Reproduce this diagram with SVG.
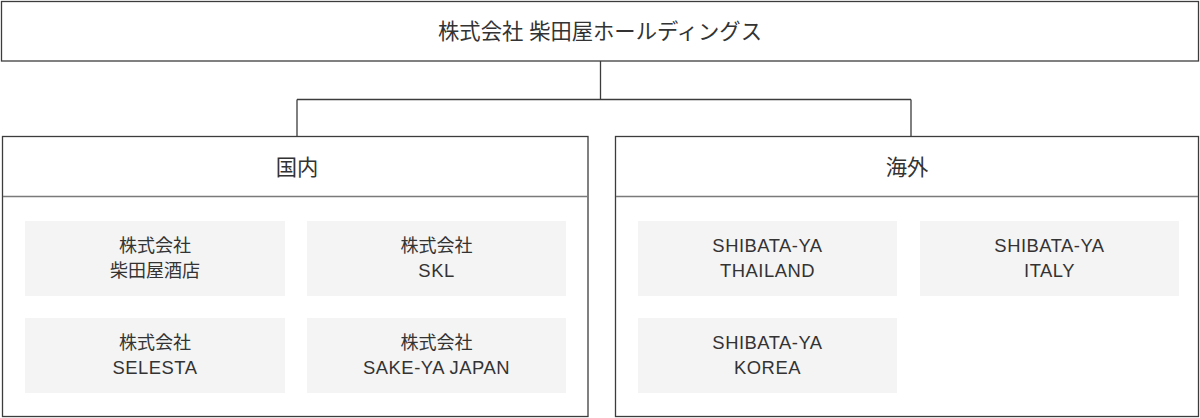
<svg xmlns="http://www.w3.org/2000/svg" width="1200" height="418" viewBox="0 0 1200 418">
<style>
.frame{fill:#fff;stroke:#3c3c3c;stroke-width:1.3}
.div{stroke:#7a7a7a;stroke-width:1.3}
.co{fill:#f4f4f4}
.conn{fill:none;stroke:#3c3c3c;stroke-width:1.3}
text{font-family:"Liberation Sans","Noto Sans CJK JP",sans-serif;fill:#333;text-anchor:middle}
.t1{font-size:21.3px}
.t2{font-size:18px}
.lat{font-size:18.4px;letter-spacing:0.5px}
</style>
<rect width="1200" height="418" fill="#fff"/>
<g id="connectors">
<path class="conn" d="M600.5 61V99.5M297 99.5H911M297 99.5V137M911 99.5V137"/>
</g>
<g id="holdings">
<rect class="frame" x="1.5" y="1.5" width="1197" height="59.5"/>
<text class="t1" x="600" y="38.5">株式会社 柴田屋ホールディングス</text>
</g>
<g id="domestic">
<rect class="frame" x="2.5" y="136.5" width="585.5" height="280"/>
<line class="div" x1="3" y1="196.5" x2="587.5" y2="196.5"/>
<text class="t1" x="297" y="174.5">国内</text>
</g>
<g id="overseas">
<rect class="frame" x="615.5" y="136.5" width="583" height="280"/>
<line class="div" x1="616" y1="196.5" x2="1198" y2="196.5"/>
<text class="t1" x="907" y="174.5">海外</text>
</g>
<g id="shibataya-saketen">
<rect class="co" x="25" y="221" width="260" height="75"/>
<text class="t2" x="155" y="252">株式会社</text>
<text class="t2" x="155" y="276.5">柴田屋酒店</text>
</g>
<g id="skl">
<rect class="co" x="307" y="221" width="259" height="75"/>
<text class="t2" x="436.5" y="252">株式会社</text>
<text class="lat" x="436.5" y="276.5">SKL</text>
</g>
<g id="selesta">
<rect class="co" x="25" y="318" width="260" height="75"/>
<text class="t2" x="155" y="349">株式会社</text>
<text class="lat" x="155" y="373.5">SELESTA</text>
</g>
<g id="sakeya-japan">
<rect class="co" x="307" y="318" width="259" height="75"/>
<text class="t2" x="436.5" y="349">株式会社</text>
<text class="lat" x="436.5" y="373.5">SAKE-YA JAPAN</text>
</g>
<g id="thailand">
<rect class="co" x="638" y="221" width="259" height="75"/>
<text class="lat" x="767.5" y="252">SHIBATA-YA</text>
<text class="lat" x="767.5" y="276.5">THAILAND</text>
</g>
<g id="italy">
<rect class="co" x="920" y="221" width="259" height="75"/>
<text class="lat" x="1049.5" y="252">SHIBATA-YA</text>
<text class="lat" x="1049.5" y="276.5">ITALY</text>
</g>
<g id="korea">
<rect class="co" x="638" y="318" width="259" height="75"/>
<text class="lat" x="767.5" y="349">SHIBATA-YA</text>
<text class="lat" x="767.5" y="373.5">KOREA</text>
</g>
</svg>
